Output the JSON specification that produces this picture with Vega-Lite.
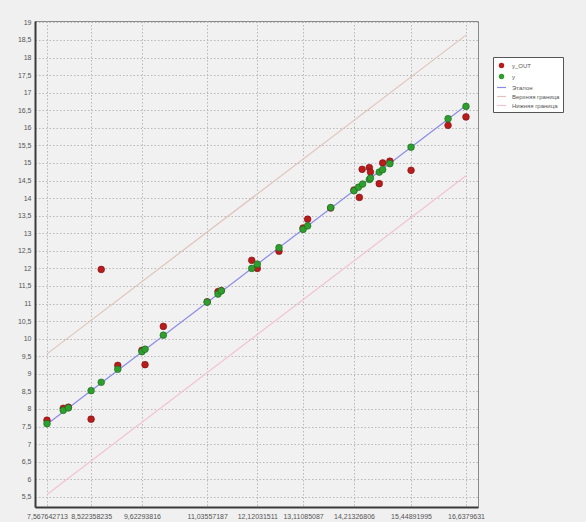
{
  "$schema": "https://vega.github.io/schema/vega-lite/v6.json",
  "autosize": {"type": "none"},
  "width": 443,
  "height": 486,
  "padding": {"left": 35, "top": 21, "right": 108, "bottom": 15},
  "background": "#f0f0f0",
  "config": {
    "view": {"stroke": "#8a8a8a", "strokeWidth": 1, "fill": "#f1f1f1"},
    "axis": {
      "gridColor": "#b8b8b8", "gridDash": [1.5, 2], "gridWidth": 1,
      "domainColor": "#3a3a3a", "domainWidth": 2, "ticks": false,
      "labelFont": "Liberation Sans", "labelFontSize": 7, "labelColor": "#555555",
      "title": null
    },
    "legend": {
      "fillColor": "white", "strokeColor": "#555555", "padding": 3,
      "rowPadding": 0, "labelFont": "Liberation Sans", "labelFontSize": 6,
      "labelColor": "#555555", "symbolStrokeWidth": 1.2, "labelOffset": 5,
      "symbolSize": 49
    }
  },
  "datasets": {
    "pts": [
      {"x": 7.5676, "val": 7.68, "series": "y_OUT"},
      {"x": 7.92, "val": 8.02, "series": "y_OUT"},
      {"x": 8.03, "val": 8.05, "series": "y_OUT"},
      {"x": 8.5224, "val": 7.71, "series": "y_OUT"},
      {"x": 8.742, "val": 11.97, "series": "y_OUT"},
      {"x": 9.10, "val": 9.24, "series": "y_OUT"},
      {"x": 9.623, "val": 9.67, "series": "y_OUT"},
      {"x": 9.69, "val": 9.26, "series": "y_OUT"},
      {"x": 10.086, "val": 10.35, "series": "y_OUT"},
      {"x": 11.0356, "val": 11.05, "series": "y_OUT"},
      {"x": 11.27, "val": 11.34, "series": "y_OUT"},
      {"x": 11.34, "val": 11.37, "series": "y_OUT"},
      {"x": 12.0, "val": 12.23, "series": "y_OUT"},
      {"x": 12.1203, "val": 12.0, "series": "y_OUT"},
      {"x": 12.59, "val": 12.49, "series": "y_OUT"},
      {"x": 13.111, "val": 13.15, "series": "y_OUT"},
      {"x": 13.21, "val": 13.40, "series": "y_OUT"},
      {"x": 13.71, "val": 13.72, "series": "y_OUT"},
      {"x": 14.213, "val": 14.23, "series": "y_OUT"},
      {"x": 14.33, "val": 14.02, "series": "y_OUT"},
      {"x": 14.39, "val": 14.82, "series": "y_OUT"},
      {"x": 14.546, "val": 14.87, "series": "y_OUT"},
      {"x": 14.57, "val": 14.74, "series": "y_OUT"},
      {"x": 14.76, "val": 14.41, "series": "y_OUT"},
      {"x": 14.835, "val": 15.0, "series": "y_OUT"},
      {"x": 14.99, "val": 15.05, "series": "y_OUT"},
      {"x": 15.4489, "val": 14.79, "series": "y_OUT"},
      {"x": 16.25, "val": 16.07, "series": "y_OUT"},
      {"x": 16.638, "val": 16.31, "series": "y_OUT"},
      {"x": 7.5676, "val": 7.58, "series": "y"},
      {"x": 7.92, "val": 7.96, "series": "y"},
      {"x": 8.03, "val": 8.03, "series": "y"},
      {"x": 8.5224, "val": 8.52, "series": "y"},
      {"x": 8.742, "val": 8.76, "series": "y"},
      {"x": 9.10, "val": 9.13, "series": "y"},
      {"x": 9.623, "val": 9.63, "series": "y"},
      {"x": 9.69, "val": 9.70, "series": "y"},
      {"x": 10.086, "val": 10.10, "series": "y"},
      {"x": 11.0356, "val": 11.04, "series": "y"},
      {"x": 11.27, "val": 11.27, "series": "y"},
      {"x": 11.34, "val": 11.36, "series": "y"},
      {"x": 12.0, "val": 12.0, "series": "y"},
      {"x": 12.1203, "val": 12.12, "series": "y"},
      {"x": 12.59, "val": 12.59, "series": "y"},
      {"x": 13.111, "val": 13.11, "series": "y"},
      {"x": 13.21, "val": 13.21, "series": "y"},
      {"x": 13.71, "val": 13.73, "series": "y"},
      {"x": 14.213, "val": 14.21, "series": "y"},
      {"x": 14.31, "val": 14.31, "series": "y"},
      {"x": 14.40, "val": 14.40, "series": "y"},
      {"x": 14.546, "val": 14.53, "series": "y"},
      {"x": 14.57, "val": 14.57, "series": "y"},
      {"x": 14.76, "val": 14.74, "series": "y"},
      {"x": 14.835, "val": 14.81, "series": "y"},
      {"x": 14.99, "val": 14.98, "series": "y"},
      {"x": 15.4489, "val": 15.45, "series": "y"},
      {"x": 16.25, "val": 16.26, "series": "y"},
      {"x": 16.638, "val": 16.61, "series": "y"}
    ],
    "lines": [
      {"x": 7.5676, "val": 7.5676, "series": "Эталон"},
      {"x": 16.638, "val": 16.638, "series": "Эталон"},
      {"x": 7.5676, "val": 9.5676, "series": "Верхняя граница"},
      {"x": 16.638, "val": 18.638, "series": "Верхняя граница"},
      {"x": 7.5676, "val": 5.5676, "series": "Нижняя граница"},
      {"x": 16.638, "val": 14.638, "series": "Нижняя граница"}
    ]
  },
  "encoding": {
    "x": {
      "field": "x", "type": "quantitative",
      "scale": {"domain": [7.308, 16.898], "nice": false, "zero": false},
      "axis": {
        "values": [7.567642713, 8.522358235, 9.62293816, 11.03557187, 12.12031511, 13.11085087, 14.21326806, 15.44891995, 16.6379631],
        "labelExpr": "replace(toString(datum.value), '.', ',')",
        "labelPadding": 5
      }
    },
    "y": {
      "field": "val", "type": "quantitative",
      "scale": {"domain": [5.21, 19.04], "nice": false, "zero": false},
      "axis": {
        "values": [5.5, 6, 6.5, 7, 7.5, 8, 8.5, 9, 9.5, 10, 10.5, 11, 11.5, 12, 12.5, 13, 13.5, 14, 14.5, 15, 15.5, 16, 16.5, 17, 17.5, 18, 18.5, 19],
        "labelExpr": "replace(toString(datum.value), '.', ',')",
        "labelPadding": 4
      }
    },
    "color": {
      "field": "series", "type": "nominal",
      "scale": {
        "domain": ["y_OUT", "y", "Эталон", "Верхняя граница", "Нижняя граница"],
        "range": ["#b81c1c", "#2e9e2e", "#8a8ae8", "#e0c4bc", "#f2c2d2"]
      },
      "legend": {
        "title": null, "orient": "none", "legendX": 458, "legendY": 36,
        "encode": {
          "symbols": {
            "update": {
              "shape": {"signal": "indexof(['y_OUT','y'], datum.value) >= 0 ? 'circle' : 'stroke'"},
              "size": {"signal": "indexof(['y_OUT','y'], datum.value) >= 0 ? 18 : 80"},
              "fill": {"signal": "indexof(['y_OUT','y'], datum.value) >= 0 ? scale('color', datum.value) : 'transparent'"},
              "stroke": {"signal": "indexof(['y_OUT','y'], datum.value) >= 0 ? 'transparent' : scale('color', datum.value)"},
              "strokeWidth": {"value": 1.2}
            }
          }
        }
      }
    }
  },
  "layer": [
    {
      "data": {"name": "lines"},
      "mark": {"type": "line", "strokeWidth": 1.2},
      "encoding": {"detail": {"field": "series"}}
    },
    {
      "data": {"name": "pts"},
      "transform": [{"filter": "datum.series == 'y_OUT'"}],
      "mark": {"type": "point", "filled": true, "size": 45, "opacity": 1, "stroke": "#7a1010", "strokeWidth": 0.6}
    },
    {
      "data": {"name": "pts"},
      "transform": [{"filter": "datum.series == 'y'"}],
      "mark": {"type": "point", "filled": true, "size": 45, "opacity": 1, "stroke": "#1c661c", "strokeWidth": 0.6}
    }
  ]
}
